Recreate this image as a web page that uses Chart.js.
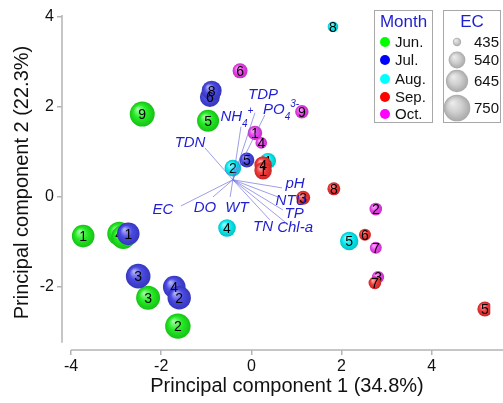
<!DOCTYPE html>
<html lang="en">
<head>
<meta charset="UTF-8">
<title>PCA biplot</title>
<script src="https://cdn.jsdelivr.net/npm/chart.js"></script>
<style>
  html, body { margin: 0; padding: 0; background: #fff; }
  #wrap { width: 503px; height: 403px; }
</style>
</head>
<body>
<div id="wrap"><canvas id="pca"></canvas></div>
<script>
// scores per month: site number, PC1, PC2, EC
var junSite = [1, 2, 3, 4, 5, 7, 9];
var junPC1  = [-3.73, -1.63, -2.29, -2.93, -0.96, -2.84, -2.42];
var junPC2  = [-0.87, -2.87, -2.24, -0.82, 1.69, -0.89, 1.84];
var junEC   = [653, 719, 685, 685, 639, 685, 709];

var julSite = [1, 3, 4, 2, 5, 6, 8];
var julPC1  = [-2.73, -2.51, -1.71, -1.60, -0.10, -0.92, -0.88];
var julPC2  = [-0.82, -1.76, -2.00, -2.24, 0.82, 2.22, 2.36];
var julEC   = [653, 699, 653, 671, 511, 598, 598];

var augSite = [1, 2, 4, 5, 8];
var augPC1  = [0.37, -0.41, -0.54, 2.17, 1.81];
var augPC2  = [0.80, 0.64, -0.69, -0.98, 3.78];
var augEC   = [527, 537, 553, 568, 456];

var sepSite = [4, 1, 3, 5, 6, 7, 8];
var sepPC1  = [0.26, 0.26, 1.15, 5.18, 2.52, 2.74, 1.83];
var sepPC2  = [0.71, 0.58, -0.02, -2.49, -0.84, -1.91, 0.18];
var sepEC   = [550, 550, 497, 511, 471, 479, 483];

var octSite = [1, 2, 3, 4, 6, 7, 9];
var octPC1  = [0.08, 2.76, 2.81, 0.22, -0.25, 2.76, 1.12];
var octPC2  = [1.42, -0.27, -1.78, 1.20, 2.80, -1.13, 1.89];
var octEC   = [503, 479, 475, 467, 511, 471, 489];

var monthNames = ['Jun.', 'Jul.', 'Aug.', 'Sep.', 'Oct.'];
var ecLegend = [435, 540, 645, 750];

// loadings: variable, vector end, label position
var loadVar  = ['TDN', 'EC', 'DO', 'WT', 'pH', 'NTU', 'TP', 'TN', 'Chl-a', 'NH4+', 'TDP', 'PO43-'];
var loadPC1  = [-1.03, -1.56, -0.85, -0.47, 0.68, 0.59, 0.70, 0.41, 0.75, -0.23, 0.08, 0.30];
var loadPC2  = [1.09, -0.20, 0.00, 0.00, 0.20, 0.00, -0.29, -0.51, -0.56, 1.56, 1.87, 1.82];
var labelPC1 = [-1.36, -1.96, -1.03, -0.32, 0.97, 0.88, 0.95, 0.26, 0.97, -0.32, 0.26, 0.66];
var labelPC2 = [1.20, -0.29, -0.24, -0.24, 0.29, -0.09, -0.38, -0.67, -0.69, 1.78, 2.27, 1.93];
var loadOrigin = [-0.41, 0.38];

var xTicks = [-4, -2, 0, 2, 4];
var yTicks = [-2, 0, 2, 4];
var xTitle = 'Principal component 1 (34.8%)';
var yTitle = 'Principal component 2 (22.3%)';

var FONT = '"Liberation Sans", Arial, sans-serif';
var BLUE_TXT = '#1e1ed2';
var monthRGB = [[25, 235, 25], [65, 65, 228], [0, 236, 242], [242, 48, 48], [238, 58, 238]];
var legendRGB = ['#00ff00', '#0000ff', '#00ffff', '#ff0000', '#ff00ff'];

function ecRadius(ec) {
    return Math.sqrt(17.6 + 0.506 * (ec - 435));
}

function mix(c, t, f) {
    return 'rgb(' + c.map(function (v, i) { return Math.round(v + (t[i] - v) * f); }).join(',') + ')';
}

function sphere(ctx, x, y, r, rgb) {
    var g = ctx.createRadialGradient(x - r * 0.35, y - r * 0.4, r * 0.05, x, y, r);
    g.addColorStop(0, mix(rgb, [255, 255, 255], 0.6));
    g.addColorStop(0.5, mix(rgb, [255, 255, 255], 0.05));
    g.addColorStop(1, mix(rgb, [0, 0, 0], 0.18));
    return g;
}

function makeSet(i, pc1, pc2, ec, order) {
    var pts = [];
    for (var k = 0; k < pc1.length; k++) {
        pts.push({x: pc1[k], y: pc2[k], r: ecRadius(ec[k])});
    }
    return {
        label: monthNames[i],
        data: pts,
        order: order,
        borderWidth: 0,
        backgroundColor: function (c) {
            if (c.type !== 'data' || !c.chart.chartArea) return mix(monthRGB[i], monthRGB[i], 0);
            var ch = c.chart;
            var px = ch.scales.x.getPixelForValue(c.raw.x);
            var py = ch.scales.y.getPixelForValue(c.raw.y);
            return sphere(ch.ctx, px, py, c.raw.r, monthRGB[i]);
        }
    };
}

var siteLists = [junSite, julSite, augSite, sepSite, octSite];

var pointLabels = {
    id: 'pointLabels',
    afterDatasetDraw: function (chart, args) {
        var ctx = chart.ctx;
        var sites = siteLists[args.index];
        ctx.save();
        ctx.font = '14px ' + FONT;
        ctx.fillStyle = '#000';
        ctx.textAlign = 'center';
        ctx.textBaseline = 'middle';
        args.meta.data.forEach(function (el, i) {
            ctx.fillText(String(sites[i]), el.x, el.y + 1);
        });
        ctx.restore();
    }
};

function drawChem(ctx, name, cx, cy) {
    var parts;
    if (name === 'NH4+') parts = [['NH', 0], ['4', 1], ['+', -1]];
    else if (name === 'PO43-') parts = [['PO', 0], ['4', 1], ['3-', -1]];
    else parts = [[name, 0]];
    var big = 'italic 15px ' + FONT, small = 'italic 10px ' + FONT;
    var w = 0;
    parts.forEach(function (p) { ctx.font = p[1] ? small : big; w += ctx.measureText(p[0]).width; });
    var x = cx - w / 2;
    parts.forEach(function (p) {
        ctx.font = p[1] ? small : big;
        ctx.fillText(p[0], x, cy + (p[1] === 1 ? 7 : p[1] === -1 ? -6 : 0));
        x += ctx.measureText(p[0]).width;
    });
}

var biplot = {
    id: 'biplot',
    beforeDatasetsDraw: function (chart) {
        var ctx = chart.ctx, a = chart.chartArea, xs = chart.scales.x, ys = chart.scales.y;
        ctx.save();
        ctx.strokeStyle = '#b4b4b4';
        ctx.lineWidth = 1.5;
        ctx.beginPath();
        ctx.moveTo(a.left, a.top);
        ctx.lineTo(a.left, ys.getPixelForValue(-3.24));
        ctx.moveTo(xs.getPixelForValue(-4), a.bottom);
        ctx.lineTo(chart.width, a.bottom);
        ctx.stroke();
        // x axis title
        ctx.fillStyle = '#111';
        ctx.font = '20px ' + FONT;
        ctx.textAlign = 'center';
        ctx.textBaseline = 'middle';
        ctx.fillText(xTitle, 287, 386);
        ctx.restore();
    },
    afterDatasetsDraw: function (chart) {
        var ctx = chart.ctx, xs = chart.scales.x, ys = chart.scales.y;
        var ox = xs.getPixelForValue(loadOrigin[0]), oy = ys.getPixelForValue(loadOrigin[1]);
        ctx.save();
        ctx.strokeStyle = 'rgba(110,110,220,0.75)';
        ctx.lineWidth = 0.9;
        for (var i = 0; i < loadVar.length; i++) {
            ctx.beginPath();
            ctx.moveTo(ox, oy);
            ctx.lineTo(xs.getPixelForValue(loadPC1[i]), ys.getPixelForValue(loadPC2[i]));
            ctx.stroke();
        }
        ctx.fillStyle = BLUE_TXT;
        ctx.textAlign = 'left';
        ctx.textBaseline = 'middle';
        for (var j = 0; j < loadVar.length; j++) {
            drawChem(ctx, loadVar[j], xs.getPixelForValue(labelPC1[j]), ys.getPixelForValue(labelPC2[j]));
        }
        ctx.restore();
    },
    afterDraw: function (chart) {
        var ctx = chart.ctx;
        ctx.save();
        ctx.strokeStyle = '#a8a8a8';
        ctx.lineWidth = 1;
        ctx.strokeRect(374.5, 10.5, 58, 112);
        ctx.strokeRect(443.5, 10.5, 57, 112);
        ctx.textBaseline = 'middle';
        ctx.textAlign = 'center';
        ctx.fillStyle = BLUE_TXT;
        ctx.font = '17px ' + FONT;
        ctx.fillText('Month', 403.5, 22);
        ctx.fillText('EC', 472, 22);
        var my = [42, 60, 79, 97, 114];
        ctx.textAlign = 'left';
        ctx.font = '15px ' + FONT;
        monthNames.forEach(function (m, i) {
            ctx.fillStyle = legendRGB[i];
            ctx.beginPath();
            ctx.arc(385, my[i], 5, 0, Math.PI * 2);
            ctx.fill();
            ctx.fillStyle = '#111';
            ctx.fillText(m, 395, my[i] + 1);
        });
        var ey = [42, 60, 81, 108];
        ecLegend.forEach(function (v, i) {
            var r = ecRadius(v);
            ctx.fillStyle = sphere(ctx, 457, ey[i], r, [205, 205, 205]);
            ctx.beginPath();
            ctx.arc(457, ey[i], r, 0, Math.PI * 2);
            ctx.fill();
            ctx.fillStyle = '#111';
            ctx.fillText(String(v), 474, ey[i] + 1);
        });
        ctx.restore();
    }
};

new Chart(document.getElementById('pca'), {
    type: 'bubble',
    data: {
        datasets: [
            makeSet(0, junPC1, junPC2, junEC, 4),
            makeSet(1, julPC1, julPC2, julEC, 3),
            makeSet(2, augPC1, augPC2, augEC, 2),
            makeSet(3, sepPC1, sepPC2, sepEC, 0),
            makeSet(4, octPC1, octPC2, octEC, 1)
        ]
    },
    options: {
        responsive: true,
        maintainAspectRatio: false,
        animation: false,
        events: [],
        layout: {padding: {top: 15, right: 0, left: 0, bottom: 0}},
        plugins: {legend: {display: false}, tooltip: {enabled: false}},
        scales: {
            x: {
                type: 'linear',
                min: -4.2,
                max: 5.30,
                afterBuildTicks: function (s) { s.ticks = xTicks.map(function (v) { return {value: v}; }); },
                afterFit: function (s) { s.height = 53; },
                grid: {drawOnChartArea: false, drawTicks: true, tickLength: 5, color: '#b4b4b4', lineWidth: 1.5},
                border: {display: false},
                ticks: {font: {size: 16, family: FONT}, color: '#111', padding: 2, maxRotation: 0},
                title: {display: false}
            },
            y: {
                type: 'linear',
                min: -3.4,
                max: 4.04,
                afterBuildTicks: function (s) { s.ticks = yTicks.map(function (v) { return {value: v}; }); },
                afterFit: function (s) { s.width = 62; },
                grid: {drawOnChartArea: false, drawTicks: true, tickLength: 5, color: '#b4b4b4', lineWidth: 1.5},
                border: {display: false},
                ticks: {font: {size: 16, family: FONT}, color: '#111', padding: 3},
                title: {display: true, text: yTitle, color: '#111',
                        font: {size: 20, family: FONT}, padding: {top: 10, bottom: 0}}
            }
        }
    },
    plugins: [pointLabels, biplot]
});
</script>
</body>
</html>
